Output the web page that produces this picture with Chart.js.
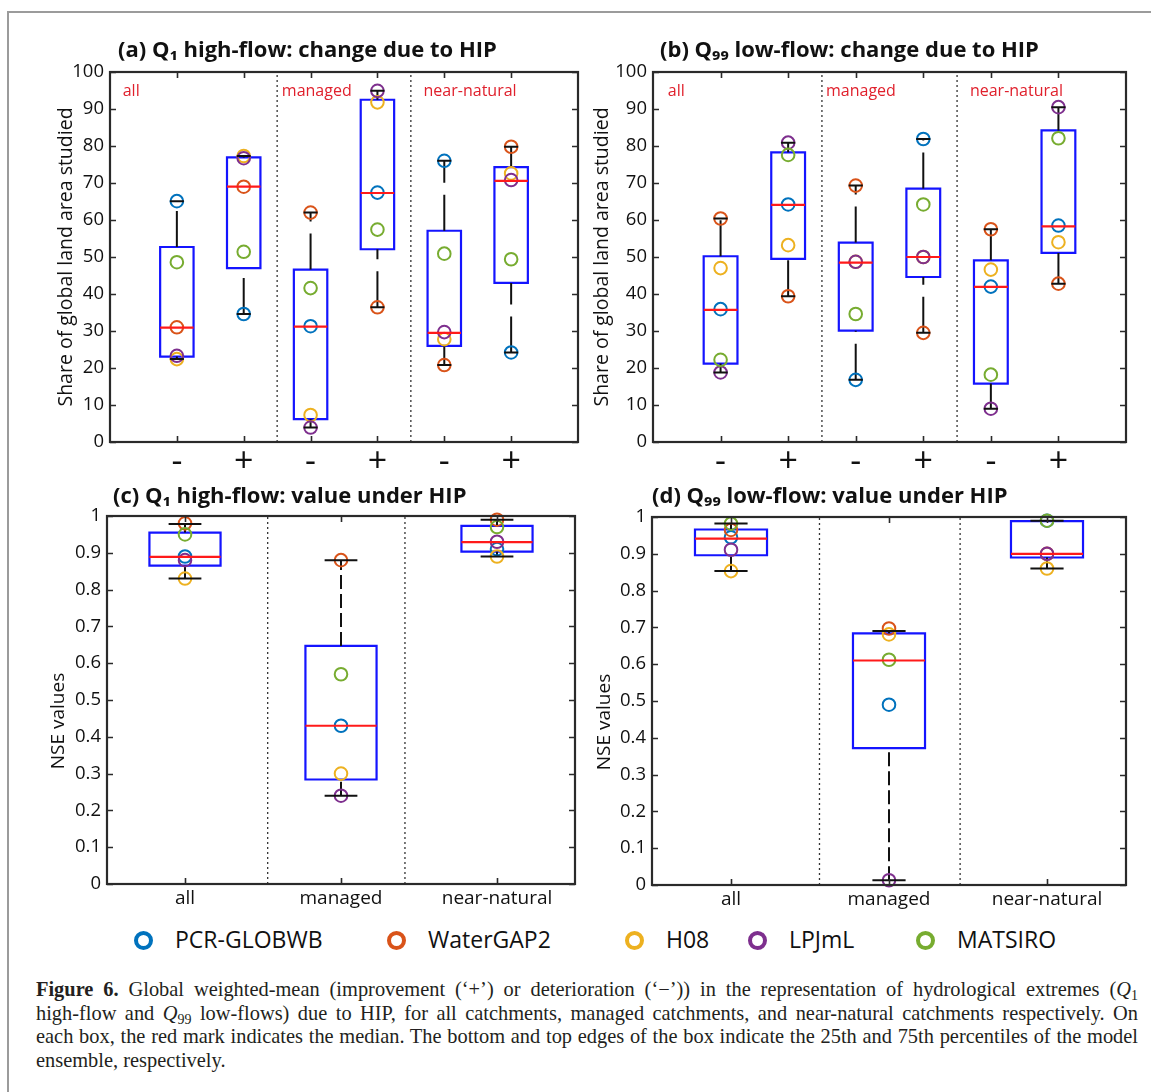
<!DOCTYPE html>
<html>
<head>
<meta charset="utf-8">
<script src="https://cdn.jsdelivr.net/npm/chart.js@4.4.1/dist/chart.umd.min.js"></script>
<style>
body{margin:0;background:#fff;width:1151px;height:1092px;overflow:hidden;position:relative;font-family:"Open Sans","Noto Sans",sans-serif;color:#111}
.frame{position:absolute;left:7px;top:11px;width:1300px;height:1300px;border-left:2px solid #9b9b9b;border-top:2px solid #9b9b9b}
.panel{position:absolute}
.legMark{position:absolute;width:19px;height:19px;border-radius:50%;border:4.5px solid;box-sizing:border-box}
.legText{position:absolute;font-size:23px;line-height:26px}
.caption{position:absolute;left:36px;top:978px;width:1102px;font-family:"Liberation Serif","Times New Roman",serif;font-size:20.4px;line-height:23.7px;color:#231f20}
.caption div{text-align:justify;text-align-last:justify;white-space:nowrap}
.caption div.last{text-align-last:left}
.caption sub{font-size:14px;line-height:0;vertical-align:-4px}
</style>
</head>
<body>
<div class="frame"></div>
<div class="panel" style="left:40px;top:30px"><canvas id="chartA" width="550" height="450"></canvas></div>
<div class="panel" style="left:585px;top:30px"><canvas id="chartB" width="555" height="450"></canvas></div>
<div class="panel" style="left:37px;top:475px"><canvas id="chartC" width="550" height="435"></canvas></div>
<div class="panel" style="left:585px;top:475px"><canvas id="chartD" width="555" height="435"></canvas></div>
<div id="legend"></div>
<div class="caption">
<div><b>Figure 6.</b> Global weighted-mean (improvement (‘+’) or deterioration (‘−’)) in the representation of hydrological extremes (<i>Q</i><sub>1</sub></div>
<div>high-flow and <i>Q</i><sub>99</sub> low-flows) due to HIP, for all catchments, managed catchments, and near-natural catchments respectively. On</div>
<div>each box, the red mark indicates the median. The bottom and top edges of the box indicate the 25th and 75th percentiles of the model</div>
<div class="last">ensemble, respectively.</div>
</div>
<script>
const models = ["PCR-GLOBWB", "WaterGAP2", "H08", "LPJmL", "MATSIRO"]
const modelColors = ["#0072BD", "#D95319", "#EDB120", "#7E2F8E", "#77AC30"]

// (a) Q1 high-flow: change due to HIP (% of land area)  all-, all+, managed-, managed+, nn-, nn+
const signLabels = ["-", "+", "-", "+", "-", "+"]
const groupNames = ["all", "managed", "near-natural"]
const aPCR = [65.1, 34.6, 31.3, 67.4, 76.0, 24.2]
const aWG  = [31.0, 69.0, 62.0, 36.4, 20.8, 79.8]
const aH08 = [22.4, 77.3, 7.3, 91.8, 27.8, 72.6]
const aLPJ = [23.3, 76.7, 3.9, 94.9, 29.7, 70.8]
const aMAT = [48.6, 51.4, 41.6, 57.4, 50.9, 49.4]
const aQ1  = [23.1, 47.0, 6.2, 52.1, 26.0, 43.0]
const aMed = [30.9, 69.0, 31.2, 67.3, 29.5, 70.6]
const aQ3  = [52.7, 76.9, 46.6, 92.5, 57.1, 74.3]
const aLo  = [22.4, 34.6, 3.9, 36.4, 20.8, 24.2]
const aHi  = [65.1, 77.3, 62.0, 94.9, 76.0, 79.8]

// (b) Q99 low-flow: change due to HIP
const bPCR = [35.9, 64.2, 16.8, 81.9, 42.0, 58.5]
const bWG  = [60.4, 39.4, 69.3, 29.5, 57.5, 42.8]
const bH08 = [47.0, 53.2, 48.7, 50.0, 46.6, 54.0]
const bLPJ = [18.8, 80.9, 48.7, 50.0, 9.0, 90.5]
const bMAT = [22.2, 77.6, 34.6, 64.2, 18.2, 82.1]
const bQ1  = [21.2, 49.5, 30.1, 44.6, 15.8, 51.1]
const bMed = [35.7, 64.1, 48.5, 50.0, 41.9, 58.3]
const bQ3  = [50.2, 78.3, 53.9, 68.5, 49.1, 84.2]
const bLo  = [18.8, 39.4, 16.8, 29.5, 9.0, 42.8]
const bHi  = [60.4, 80.9, 69.3, 81.9, 57.5, 90.5]

// (c) Q1 high-flow: NSE under HIP  all, managed, near-natural
const cPCR = [0.89, 0.43, 0.91]
const cWG  = [0.98, 0.88, 0.99]
const cH08 = [0.83, 0.30, 0.89]
const cLPJ = [0.88, 0.24, 0.93]
const cMAT = [0.95, 0.57, 0.97]
const cQ1  = [0.865, 0.284, 0.903]
const cMed = [0.889, 0.43, 0.929]
const cQ3  = [0.955, 0.647, 0.973]
const cLo  = [0.83, 0.24, 0.89]
const cHi  = [0.978, 0.88, 0.99]

// (d) Q99 low-flow: NSE under HIP
const dPCR = [0.945, 0.49, 0.99]
const dWG  = [0.965, 0.697, 0.90]
const dH08 = [0.853, 0.681, 0.86]
const dLPJ = [0.911, 0.013, 0.90]
const dMAT = [0.982, 0.612, 0.99]
const dQ1  = [0.896, 0.372, 0.89]
const dMed = [0.941, 0.61, 0.90]
const dQ3  = [0.966, 0.684, 0.989]
const dLo  = [0.853, 0.013, 0.86]
const dHi  = [0.982, 0.69, 0.99]

const FONT = '"Open Sans","Noto Sans",sans-serif'

// draws frame, inward ticks, panel title, y title and group names
const panelDeco = {
    id: "panelDeco",
    afterDraw(chart, args, opts) {
        const ctx = chart.ctx
        const a = chart.chartArea
        const xs = chart.scales.x
        const ys = chart.scales.y
        ctx.save()
        ctx.strokeStyle = "#2a2a2a"
        ctx.lineWidth = 1.6
        ctx.beginPath()
        ys.ticks.forEach(t => {
            const py = Math.round(ys.getPixelForValue(t.value)) + 0.5
            ctx.moveTo(a.left, py); ctx.lineTo(a.left + 6, py)
            ctx.moveTo(a.right, py); ctx.lineTo(a.right - 6, py)
        })
        xs.ticks.forEach(t => {
            const px = Math.round(xs.getPixelForValue(t.value)) + 0.5
            ctx.moveTo(px, a.top); ctx.lineTo(px, a.top + 6)
            ctx.moveTo(px, a.bottom); ctx.lineTo(px, a.bottom - 6)
        })
        ctx.stroke()
        ctx.lineWidth = 2.2
        ctx.strokeRect(a.left, a.top, a.right - a.left, a.bottom - a.top)

        ctx.fillStyle = "#111"
        ctx.textBaseline = "middle"
        ctx.textAlign = "left"
        ctx.font = "bold 22px " + FONT
        ctx.fillText(opts.title, a.left + opts.titleDx, a.top + opts.titleDy)

        ctx.save()
        ctx.translate(a.left + opts.yTitleDx, (a.top + a.bottom) / 2 + opts.yTitleDy)
        ctx.rotate(-Math.PI / 2)
        ctx.textAlign = "center"
        ctx.font = opts.yTitleSize + "px " + FONT
        ctx.fillText(opts.yTitle, 0, 0)
        ctx.restore()

        if (opts.groups) {
            ctx.fillStyle = "#e0202c"
            ctx.font = "16px " + FONT
            opts.groups.forEach((g, i) => {
                ctx.fillText(g, xs.getPixelForValue(opts.groupAt[i]), a.top + 19)
            })
        }
        ctx.restore()
    }
}

function linePts(list) {
    const out = []
    list.forEach(seg => { seg.forEach(p => out.push(p)); out.push({x: null, y: null}) })
    return out
}

function makePanel(id, p) {
    const cx = p.labels.map((_, i) => i + 1)
    const h = p.boxHalf, k = p.capHalf
    const boxes = [], meds = [], ups = [], lows = [], caps = [], divs = []
    cx.forEach((c, i) => {
        boxes.push([{x: c - h, y: p.q1[i]}, {x: c + h, y: p.q1[i]}, {x: c + h, y: p.q3[i]}, {x: c - h, y: p.q3[i]}, {x: c - h, y: p.q1[i]}, {x: c + h, y: p.q1[i]}])
        meds.push([{x: c - h, y: p.med[i]}, {x: c + h, y: p.med[i]}])
        ups.push([{x: c, y: p.q3[i]}, {x: c, y: p.hi[i]}])
        lows.push([{x: c, y: p.lo[i]}, {x: c, y: p.q1[i]}])
        caps.push([{x: c - k, y: p.hi[i]}, {x: c + k, y: p.hi[i]}])
        caps.push([{x: c - k, y: p.lo[i]}, {x: c + k, y: p.lo[i]}])
    })
    p.dividers.forEach(d => divs.push([{x: d, y: p.yMin}, {x: d, y: p.yMax}]))

    const lineSet = (data, color, width, dash, order) => ({
        data: linePts(data), showLine: true, borderColor: color, borderWidth: width,
        borderDash: dash, borderCapStyle: "butt", borderJoinStyle: "miter",
        pointRadius: 0, fill: false, order: order, clip: false
    })

    const datasets = [
        lineSet(divs, "#333", 1.3, [2, 3], 10),
        lineSet(boxes, "#1414ff", 2.2, [], 9),
        lineSet(ups, "#111", 2, p.dash, 8),
        lineSet(lows, "#111", 2, p.dash, 8)
    ]
    p.values.forEach((vals, m) => {
        datasets.push({
            label: models[m],
            data: vals.map((v, i) => ({x: cx[i], y: v})),
            showLine: false, pointRadius: 6.3, pointBorderWidth: 2,
            pointBorderColor: modelColors[m], pointBackgroundColor: "rgba(0,0,0,0)",
            order: 7 - m, clip: false
        })
    })
    datasets.push(lineSet(caps, "#111", 2, [], 2))
    datasets.push(lineSet(meds, "#ff1a1a", 2.2, [], 1))

    return new Chart(document.getElementById(id), {
        type: "scatter",
        data: {datasets: datasets},
        options: {
            responsive: false,
            animation: false,
            devicePixelRatio: 1,
            events: [],
            layout: {padding: {left: 0, top: p.padTop, right: p.padRight, bottom: 0}},
            scales: {
                x: {
                    type: "linear", min: p.xMin, max: p.xMax,
                    grid: {display: false, drawTicks: false},
                    border: {display: false},
                    afterBuildTicks: s => { s.ticks = cx.map(v => ({value: v})) },
                    afterFit: s => { s.height = p.xHeight },
                    ticks: {
                        autoSkip: false, maxRotation: 0, padding: p.xPad, color: "#111",
                        font: {family: FONT, size: p.xFont},
                        callback: v => p.labels[Math.round(v) - 1]
                    }
                },
                y: {
                    type: "linear", min: p.yMin, max: p.yMax,
                    grid: {display: false, drawTicks: false},
                    border: {display: false},
                    afterFit: s => { s.width = p.yWidth },
                    ticks: {
                        stepSize: p.yStep, padding: 6, color: "#111",
                        font: {family: FONT, size: 18.5},
                        callback: v => String(Math.round(v * 10) / 10)
                    }
                }
            },
            plugins: {
                legend: {display: false},
                tooltip: {enabled: false},
                panelDeco: p.deco
            }
        },
        plugins: [panelDeco]
    })
}

makePanel("chartA", {
    labels: signLabels, values: [aPCR, aWG, aH08, aLPJ, aMAT],
    q1: aQ1, med: aMed, q3: aQ3, lo: aLo, hi: aHi,
    boxHalf: 0.25, capHalf: 0.105, dash: [36, 12], dividers: [2.5, 4.5],
    xMin: 0, xMax: 7, yMin: 0, yMax: 100, yStep: 10,
    padTop: 42, padRight: 12, yWidth: 70, xHeight: 38, xFont: 34, xPad: 0,
    deco: {title: "(a) Q\u2081 high-flow: change due to HIP", titleDx: 8, titleDy: -21,
        yTitle: "Share of global land area studied", yTitleSize: 19.5, yTitleDx: -44, yTitleDy: 0,
        groups: groupNames, groupAt: [0.19, 2.57, 4.69]}
})

makePanel("chartB", {
    labels: signLabels, values: [bPCR, bWG, bH08, bLPJ, bMAT],
    q1: bQ1, med: bMed, q3: bQ3, lo: bLo, hi: bHi,
    boxHalf: 0.25, capHalf: 0.105, dash: [36, 12], dividers: [2.5, 4.5],
    xMin: 0, xMax: 7, yMin: 0, yMax: 100, yStep: 10,
    padTop: 42, padRight: 14, yWidth: 68, xHeight: 38, xFont: 34, xPad: 0,
    deco: {title: "(b) Q\u2089\u2089 low-flow: change due to HIP", titleDx: 7, titleDy: -21,
        yTitle: "Share of global land area studied", yTitleSize: 19.5, yTitleDx: -51, yTitleDy: 0,
        groups: groupNames, groupAt: [0.22, 2.56, 4.69]}
})

makePanel("chartC", {
    labels: groupNames, values: [cPCR, cWG, cH08, cLPJ, cMAT],
    q1: cQ1, med: cMed, q3: cQ3, lo: cLo, hi: cHi,
    boxHalf: 0.228, capHalf: 0.105, dash: [14, 5], dividers: [1.53, 2.41],
    xMin: 0.5, xMax: 3.5, yMin: 0, yMax: 1, yStep: 0.1,
    padTop: 41, padRight: 12, yWidth: 70, xHeight: 26, xFont: 19, xPad: 3,
    deco: {title: "(c) Q\u2081 high-flow: value under HIP", titleDx: 6, titleDy: -19,
        yTitle: "NSE values", yTitleSize: 19, yTitleDx: -48, yTitleDy: 21}
})

makePanel("chartD", {
    labels: groupNames, values: [dPCR, dWG, dH08, dLPJ, dMAT],
    q1: dQ1, med: dMed, q3: dQ3, lo: dLo, hi: dHi,
    boxHalf: 0.228, capHalf: 0.105, dash: [14, 5], dividers: [1.56, 2.45],
    xMin: 0.5, xMax: 3.5, yMin: 0, yMax: 1, yStep: 0.1,
    padTop: 42, padRight: 14, yWidth: 67, xHeight: 25, xFont: 19, xPad: 3,
    deco: {title: "(d) Q\u2089\u2089 low-flow: value under HIP", titleDx: 0, titleDy: -20,
        yTitle: "NSE values", yTitleSize: 19, yTitleDx: -47, yTitleDy: 21}
})

// legend row
const legX = [143, 396, 634, 757, 925]
const legend = document.getElementById("legend")
models.forEach((m, i) => {
    const mk = document.createElement("div")
    mk.className = "legMark"
    mk.style.left = (legX[i] - 9.5) + "px"
    mk.style.top = (940 - 9.5) + "px"
    mk.style.borderColor = modelColors[i]
    legend.appendChild(mk)
    const tx = document.createElement("div")
    tx.className = "legText"
    tx.style.left = (legX[i] + 32) + "px"
    tx.style.top = (940 - 14) + "px"
    tx.textContent = m
    legend.appendChild(tx)
})
</script>
</body>
</html>
